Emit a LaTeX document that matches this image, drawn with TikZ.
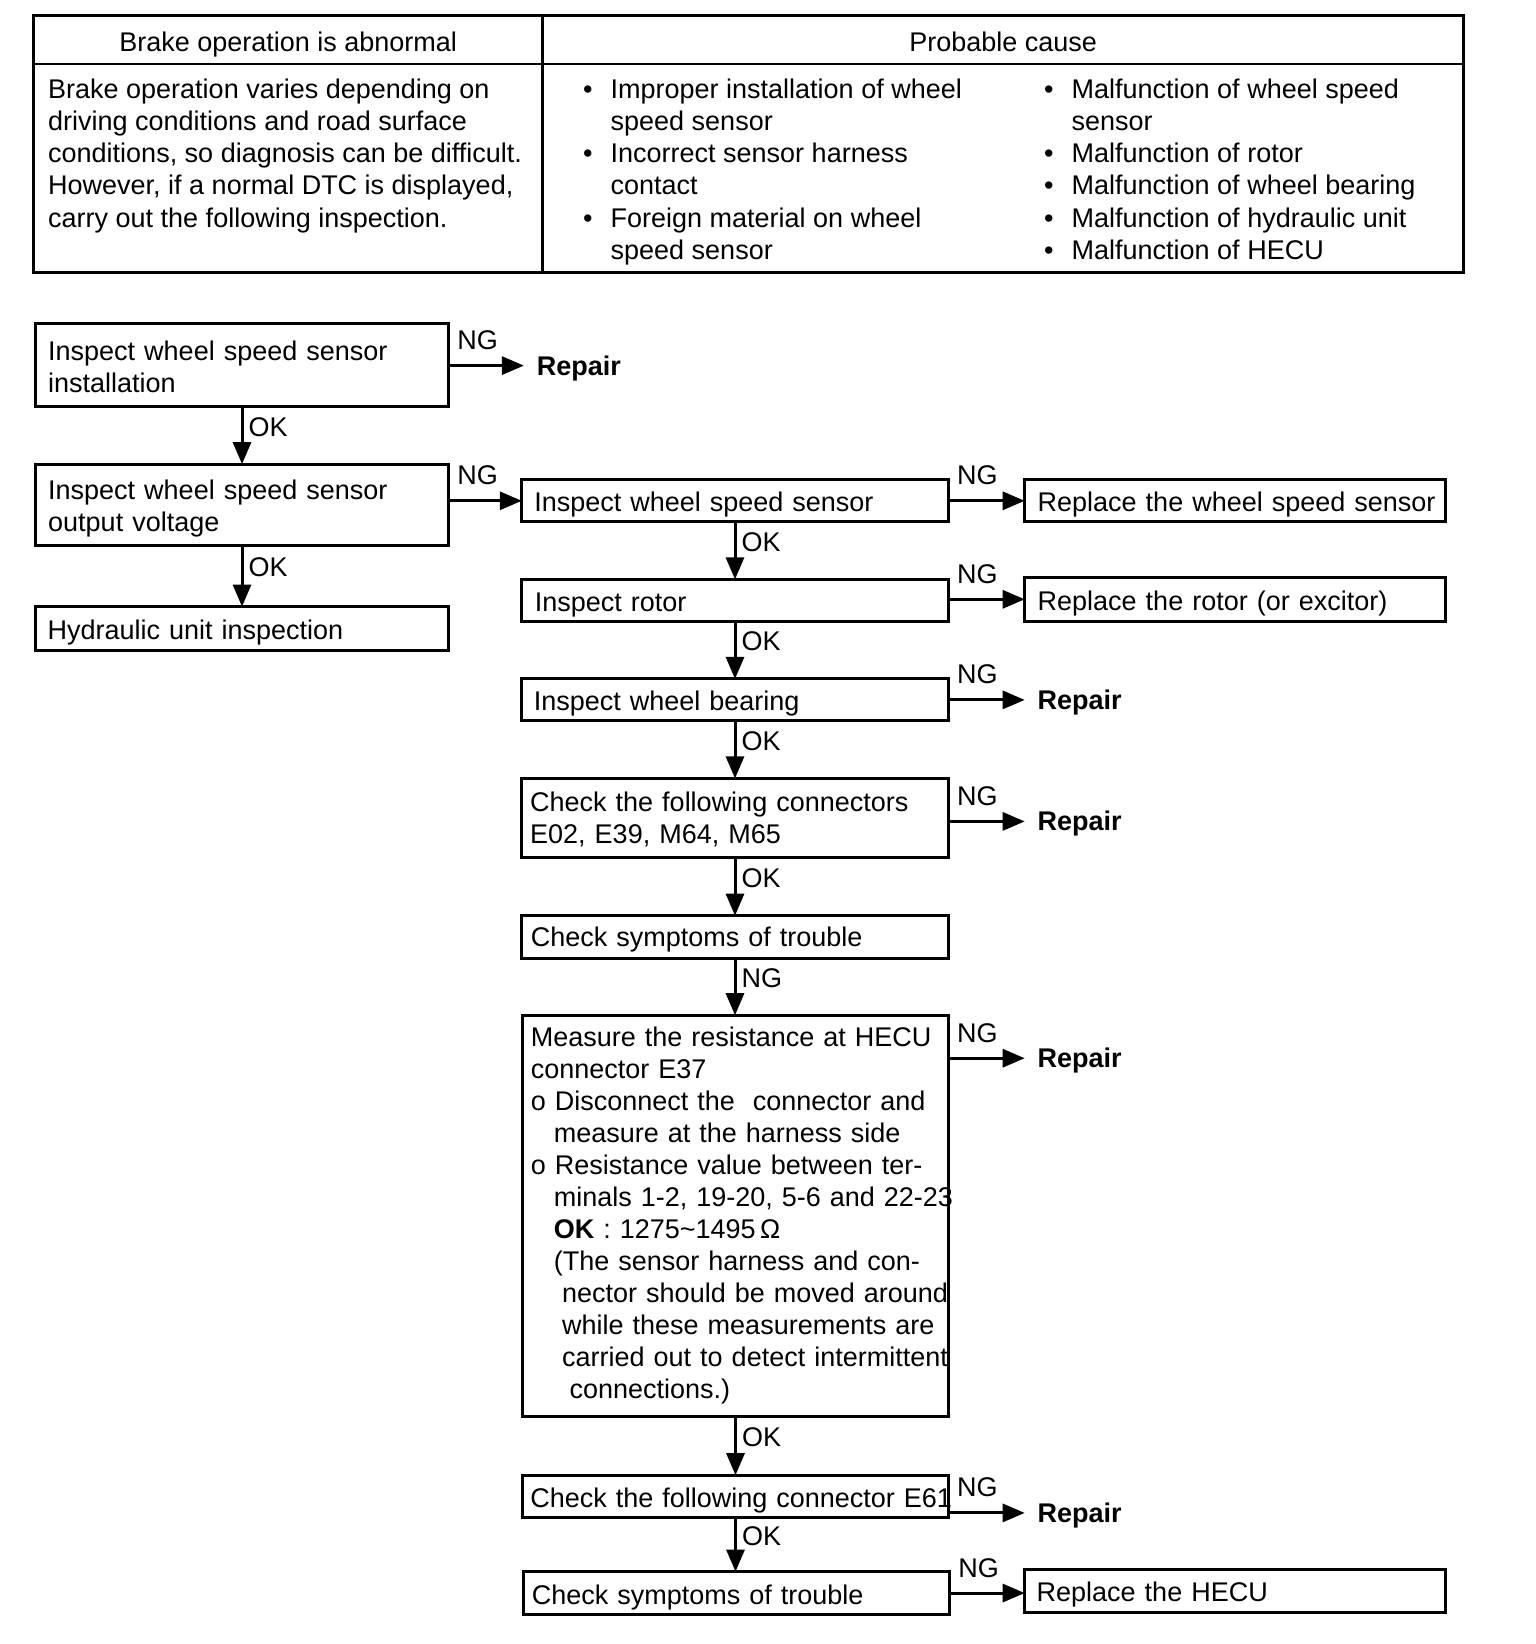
\documentclass[tikz,border=0pt]{standalone}
\usepackage{fontspec}
\setmainfont{Liberation Sans}
\usetikzlibrary{arrows.meta}
\newcommand\tstrut{\rule{0pt}{21pt}}
\newcommand\strA{\rule{0pt}{27.5pt}}
\newcommand\strB{\rule{0pt}{24pt}}
\newcommand\bul{\makebox[27.6pt][l]{\textbullet}}
\newcommand\ind{\hspace*{27.6pt}}
\newcommand\fb[7]{\pgfmathsetmacro\tw{#4-2*#6}\node[fbox, inner xsep=#6pt, minimum width=#4pt, minimum height=#5pt, text width=\tw pt] (#1) at (#2,#3) {#7};}
\begin{document}
\begin{tikzpicture}[x=1pt,y=-1pt,
  every node/.style={inner sep=0pt, outer sep=0pt, font=\fontsize{27}{32}\selectfont},
  fbox/.style={draw, line width=3pt, anchor=north west, align=left},
  arr/.style={line width=3pt, -{Triangle[length=22pt,width=18pt]}},
  rep/.style={anchor=west, inner xsep=13pt, text height=19pt, text depth=0pt, font=\fontsize{27}{32}\selectfont\bfseries},
  nglbl/.style={anchor=base west, xshift=9pt, yshift=16pt},
  oklbl/.style={anchor=west, xshift=6.5pt, pos=0.35, text height=19pt, text depth=0pt},
  tline/.style={line width=2.8pt},
  tcell/.style={anchor=north west, align=left, font=\fontsize{27}{32.3}\selectfont},
]
\fill[white] (0,0) rectangle (1536,1644);
\useasboundingbox (0,0) rectangle (1536,1644);

% table
\draw[tline] (33.5,15.7) rectangle (1463.7,272.4);
\draw[tline] (33.5,63.9) -- (1463.7,63.9);
\draw[tline] (542.7,15.7) -- (542.7,272.4);
\node[anchor=base] (h1) at (288.1,51.2) {Brake operation is abnormal};
\node[anchor=base] (h2) at (1003.2,51.2) {Probable cause};
\node[tcell] (t1) at (48.2,77) {\tstrut Brake operation varies depending on\\ driving conditions and road surface\\ conditions, so diagnosis can be difficult.\\ However, if a normal DTC is displayed,\\ carry out the following inspection.};
\node[tcell] (t2) at (583.1,77) {\tstrut\bul Improper installation of wheel\\ \ind speed sensor\\ \bul Incorrect sensor harness\\ \ind contact\\ \bul Foreign material on wheel\\ \ind speed sensor};
\node[tcell] (t3) at (1044.1,77) {\tstrut\bul Malfunction of wheel speed\\ \ind sensor\\ \bul Malfunction of rotor\\ \bul Malfunction of wheel bearing\\ \bul Malfunction of hydraulic unit\\ \bul Malfunction of HECU};

% boxes
\fb{b1}{35.6}{323.7}{412.8}{82.8}{12.6}{\strB Inspect wheel speed sensor\\installation}
\fb{b2}{35.6}{464.1}{412.8}{81.8}{12.6}{\strA Inspect wheel speed sensor\\output voltage}
\fb{b3}{35.6}{606.6}{412.8}{44}{12}{\strA Hydraulic unit inspection}
\fb{c1}{521.8}{479.8}{426.4}{42}{12.5}{\strA Inspect wheel speed sensor}
\fb{c2}{521.8}{579.4}{426.4}{41.9}{13}{\strA Inspect rotor}
\fb{c3}{521.8}{678.9}{426.4}{41.9}{12}{\strA Inspect wheel bearing}
\fb{c4}{521.8}{778.4}{426.4}{78.6}{8.4}{\strB Check the following connectors\\E02, E39, M64, M65}
\fb{c5}{521.8}{915.7}{426.4}{42.9}{9}{\strB Check symptoms of trouble}
\fb{c6}{522.8}{1015.2}{425.4}{401.3}{8}{\mbox{Measure the resistance at HECU}\\
\mbox{connector E37}\\
\mbox{o Disconnect the\ \ connector and}\\
\hspace*{23pt}\mbox{measure at the harness side}\\
\mbox{o Resistance value between ter-}\\
\hspace*{23pt}\mbox{minals 1-2, 19-20, 5-6 and 22-23}\\
\hspace*{23pt}\mbox{\textbf{OK} : 1275\textasciitilde1495\,Ω}\\
\hspace*{23pt}\mbox{(The sensor harness and con-}\\
\hspace*{31.4pt}\mbox{nector should be moved around}\\
\hspace*{31.4pt}\mbox{while these measurements are}\\
\hspace*{31.4pt}\mbox{carried out to detect intermittent}\\
\hspace*{38.7pt}\mbox{connections.)}}
\fb{c7}{522.8}{1475.2}{425.4}{41.9}{7.5}{\strA\mbox{Check the following connector E61}}
\fb{c8}{523.9}{1571.6}{425.4}{42.9}{8}{\strA Check symptoms of trouble}
\fb{r1}{1024.7}{479.8}{421.1}{42}{13}{\strA\mbox{Replace the wheel speed sensor}}
\fb{r2}{1024.7}{577.3}{421.1}{44}{13}{\strA Replace the rotor (or excitor)}
\fb{r8}{1024.7}{1569.4}{421.1}{43}{12}{\strA Replace the HECU}

% repair labels
\node[rep] (rep1) at (523.9,365.6) {Repair};
\node[rep] (rep3) at (1024.7,699.9) {Repair};
\node[rep] (rep4) at (1024.7,821.4) {Repair};
\node[rep] (rep6) at (1024.7,1058.2) {Repair};
\node[rep] (rep7) at (1024.7,1512.9) {Repair};

% NG arrows
\draw[arr] (b1.east |- rep1.west) node[nglbl] (ng1) {NG} -- (rep1.west);
\draw[arr] (b2.east |- c1.west) node[nglbl] (ng2) {NG} -- (c1.west);
\draw[arr] (c1.east) node[nglbl] (ng3) {NG} -- (r1.west);
\draw[arr] (c2.east |- r2.west) node[nglbl] (ng4) {NG} -- (r2.west);
\draw[arr] (c3.east |- rep3.west) node[nglbl] (ng5) {NG} -- (rep3.west);
\draw[arr] (c4.east |- rep4.west) node[nglbl] (ng6) {NG} -- (rep4.west);
\draw[arr] (c6.east |- rep6.west) node[nglbl] (ng7) {NG} -- (rep6.west);
\draw[arr] (c7.east |- rep7.west) node[nglbl] (ng8) {NG} -- (rep7.west);
\draw[arr] (c8.east) node[nglbl] (ng9) {NG} -- (c8.east -| r8.west);

% OK arrows
\draw[arr] (b1.south) -- node[oklbl] (ok1) {OK} (b2.north);
\draw[arr] (b2.south) -- node[oklbl] (ok2) {OK} (b3.north);
\draw[arr] (c1.south) -- node[oklbl] (ok3) {OK} (c2.north);
\draw[arr] (c2.south) -- node[oklbl] (ok4) {OK} (c3.north);
\draw[arr] (c3.south) -- node[oklbl] (ok5) {OK} (c4.north);
\draw[arr] (c4.south) -- node[oklbl] (ok6) {OK} (c5.north);
\draw[arr] (c5.south) -- node[oklbl] (ng10) {NG} (c5.south |- c6.north);
\draw[arr] (c6.south) -- node[oklbl] (ok7) {OK} (c7.north);
\draw[arr] (c7.south) -- node[oklbl] (ok8) {OK} (c7.south |- c8.north);
\end{tikzpicture}
\end{document}
